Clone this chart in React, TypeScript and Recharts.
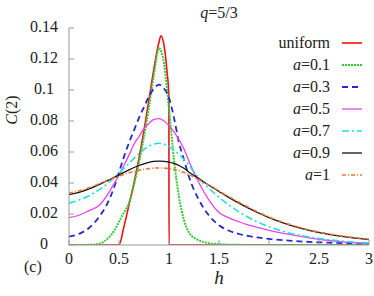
import { Legend, Line, LineChart, XAxis, YAxis } from "recharts";

const SERIF = '"Liberation Serif", Tinos, "Times New Roman", Times, "Noto Serif", "DejaVu Serif", serif';
const FS = 16;

// h grid shared by the a-series
const hGrid = [0, 0.1, 0.2, 0.3, 0.4, 0.45, 0.5, 0.55, 0.6, 0.65, 0.7, 0.75, 0.8, 0.85, 0.9, 0.95, 1.0, 1.05, 1.1, 1.15, 1.2, 1.3, 1.4, 1.5, 1.6, 1.7, 1.8, 1.9, 2.0, 2.2, 2.4, 2.6, 2.8, 3.0];

const a01 = [0, 0, 0.0001, 0.0008, 0.005, 0.009, 0.015, 0.021, 0.027, 0.039, 0.053, 0.07, 0.089, 0.11, 0.127, 0.117, 0.088, 0.055, 0.031, 0.016, 0.008, 0.003, 0.0012, 0.0005, 0.0002, 0.0001, 0, 0, 0, 0, 0, 0, 0, 0];
const a03 = [0.0054, 0.0072, 0.011, 0.018, 0.029, 0.037, 0.047, 0.057, 0.066, 0.074, 0.082, 0.089, 0.096, 0.101, 0.1035, 0.101, 0.095, 0.082, 0.066, 0.055, 0.044, 0.029, 0.019, 0.0128, 0.0092, 0.0071, 0.0057, 0.0047, 0.0039, 0.0028, 0.002, 0.0015, 0.0011, 0.0008];
const a05 = [0.0176, 0.0192, 0.0222, 0.0255, 0.034, 0.0395, 0.045, 0.0515, 0.058, 0.065, 0.07, 0.075, 0.0785, 0.081, 0.0815, 0.08, 0.077, 0.073, 0.068, 0.062, 0.054, 0.04, 0.029, 0.021, 0.0175, 0.015, 0.0128, 0.011, 0.0095, 0.0068, 0.0046, 0.0029, 0.0017, 0.0009];
const a07 = [0.027, 0.029, 0.0318, 0.0356, 0.0405, 0.0433, 0.0462, 0.0495, 0.0527, 0.056, 0.059, 0.0617, 0.0638, 0.0652, 0.0656, 0.065, 0.0635, 0.0612, 0.0585, 0.0552, 0.0515, 0.043, 0.0365, 0.0308, 0.0258, 0.0214, 0.0176, 0.0145, 0.0118, 0.0078, 0.0052, 0.0034, 0.0021, 0.0013];
const a09 = [0.0325, 0.034, 0.0362, 0.039, 0.042, 0.0436, 0.0452, 0.0469, 0.0485, 0.05, 0.0513, 0.0524, 0.0533, 0.0539, 0.0541, 0.054, 0.0535, 0.0526, 0.0513, 0.0495, 0.047, 0.0428, 0.0385, 0.0345, 0.0306, 0.027, 0.0236, 0.0205, 0.0177, 0.013, 0.0094, 0.0068, 0.0049, 0.0035];
const a10 = [0.0335, 0.035, 0.037, 0.0394, 0.042, 0.0433, 0.0445, 0.0456, 0.0466, 0.0475, 0.0482, 0.0488, 0.0493, 0.0496, 0.0497, 0.0496, 0.0493, 0.0487, 0.0479, 0.0468, 0.0455, 0.0422, 0.0386, 0.0349, 0.0312, 0.0276, 0.0242, 0.021, 0.0181, 0.0134, 0.0098, 0.0072, 0.0052, 0.0038];

// uniform case has its own h points (drops straight down at h=1)
const uniformH = [0, 0.5, 0.55, 0.6, 0.65, 0.7, 0.75, 0.8, 0.85, 0.9, 0.92, 0.95, 0.98, 0.999, 1.0, 3.0];
const uniformC = [0, 0, 0.012, 0.026, 0.04, 0.056, 0.074, 0.094, 0.114, 0.131, 0.135, 0.129, 0.112, 0.096, 0, 0];

const xTicks = [0, 0.5, 1, 1.5, 2, 2.5, 3];
const yTicks = [0, 0.02, 0.04, 0.06, 0.08, 0.1, 0.12, 0.14];

const data = hGrid.map((h, i) => ({
  h,
  a01: a01[i],
  a03: a03[i],
  a05: a05[i],
  a07: a07[i],
  a09: a09[i],
  a10: a10[i],
}));
const uniformData = uniformH.map((h, i) => ({ h, uniform: uniformC[i] }));

const legendOrder = ["uniform", "a01", "a03", "a05", "a07", "a09", "a10"];

const styles: Record<string, { label: string; color: string; dash?: string; width: number }> = {
  uniform: { label: "uniform", color: "#ee1111", width: 1.6 },
  a01: { label: "a=0.1", color: "#33cc33", dash: "2 1", width: 2 },
  a03: { label: "a=0.3", color: "#2828c8", dash: "6 4", width: 1.8 },
  a05: { label: "a=0.5", color: "#e844e8", width: 1.3 },
  a07: { label: "a=0.7", color: "#22dddd", dash: "7 3 2 3", width: 1.6 },
  a09: { label: "a=0.9", color: "#111111", width: 1.3 },
  a10: { label: "a=1", color: "#ee7733", dash: "4 2 1 2", width: 1.6 },
};

function LegendLabel({ text }: { text: string }) {
  if (!text.startsWith("a=")) return <span>{text}</span>;
  return (
    <span>
      <i>a</i>
      {text.slice(1)}
    </span>
  );
}

function LegendBox({ payload }: any) {
  const entries = [...(payload || [])].sort(
    (p: any, q: any) => legendOrder.indexOf(p.dataKey) - legendOrder.indexOf(q.dataKey)
  );
  return (
    <div style={{ fontFamily: SERIF, fontSize: FS, color: "#222" }}>
      {entries.map((entry: any) => {
        const s = styles[entry.dataKey];
        return (
          <div
            key={entry.dataKey}
            style={{ display: "flex", alignItems: "center", justifyContent: "flex-end", height: 22 }}
          >
            <LegendLabel text={s.label} />
            <svg width={20} height={6} style={{ marginLeft: 12 }}>
              <line x1={0} y1={3} x2={20} y2={3} stroke={s.color} strokeWidth={s.width} strokeDasharray={s.dash} />
            </svg>
          </div>
        );
      })}
    </div>
  );
}

function YTick({ x, y, payload }: any) {
  return (
    <text x={x - 18} y={y - 2} dy="0.35em" textAnchor="middle" fontFamily={SERIF} fontSize={FS} fill="#222">
      {String(payload.value)}
    </text>
  );
}

const seriesKeys = ["a01", "a03", "a05", "a07", "a09", "a10"];

export default function App() {
  return (
    <div style={{ position: "absolute", left: 0, top: 0, width: 374, height: 296, background: "#fff" }}>
      <LineChart width={374} height={296} data={data} margin={{ top: 28, right: 5, bottom: 21, left: 0 }}>
        <XAxis
          dataKey="h"
          type="number"
          domain={[0, 3]}
          ticks={xTicks}
          height={30}
          tickSize={-5}
          tickMargin={13}
          stroke="#999"
          tick={{ fontFamily: SERIF, fontSize: FS, fill: "#222" }}
          allowDataOverflow
        />
        <XAxis
          xAxisId="top"
          orientation="top"
          dataKey="h"
          type="number"
          domain={[0, 3]}
          ticks={xTicks}
          height={0}
          tickSize={-5}
          tick={false}
          stroke="#999"
        />
        <YAxis
          type="number"
          domain={[0, 0.14]}
          ticks={yTicks}
          width={69}
          tickSize={-5}
          tickMargin={12}
          stroke="#999"
          tick={<YTick />}
          allowDataOverflow
        />
        <YAxis
          yAxisId="right"
          orientation="right"
          type="number"
          domain={[0, 0.14]}
          ticks={yTicks}
          width={0}
          tickSize={-5}
          tick={false}
          stroke="#999"
        />
        <Line
          data={uniformData}
          dataKey="uniform"
          type="monotone"
          stroke={styles.uniform.color}
          strokeWidth={styles.uniform.width}
          dot={false}
          isAnimationActive={false}
        />
        {seriesKeys.map((k) => (
          <Line
            key={k}
            dataKey={k}
            type="monotone"
            stroke={styles[k].color}
            strokeWidth={styles[k].width}
            strokeDasharray={styles[k].dash}
            dot={false}
            isAnimationActive={false}
          />
        ))}
        <Legend
          layout="vertical"
          align="center"
          verticalAlign="middle"
          content={<LegendBox />}
          wrapperStyle={{ top: 32, right: 12, left: "auto", width: "auto", height: "auto" }}
        />
      </LineChart>
      <div style={{ position: "absolute", left: 0, width: 438, top: 3, lineHeight: "20px", textAlign: "center", fontFamily: SERIF, fontSize: FS, color: "#222" }}>
        <i>q</i>=5/3
      </div>
      <div
        style={{
          position: "absolute",
          left: 12,
          top: 110,
          lineHeight: "20px",
          transform: "translate(-50%, -50%) rotate(-90deg)",
          fontFamily: SERIF,
          fontSize: FS,
          color: "#222",
          whiteSpace: "nowrap",
        }}
      >
        <i>C</i>(2)
      </div>
      <div style={{ position: "absolute", left: 200, width: 38, top: 268, lineHeight: "20px", textAlign: "center", fontFamily: SERIF, fontSize: 19, color: "#222" }}>
        <i>h</i>
      </div>
      <div style={{ position: "absolute", left: 24, top: 258, lineHeight: "18px", fontFamily: SERIF, fontSize: FS, color: "#222" }}>(c)</div>
    </div>
  );
}
